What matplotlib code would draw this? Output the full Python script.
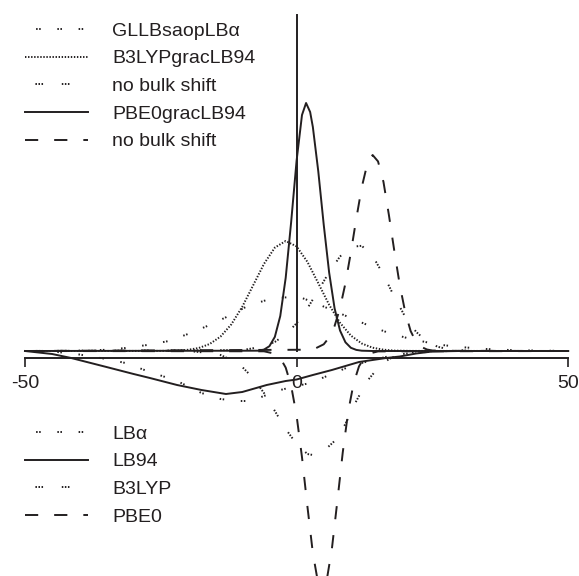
import matplotlib
matplotlib.use("Agg")
import matplotlib.pyplot as plt

plt.rcParams['font.family'] = ['Liberation Sans', 'DejaVu Sans']
plt.rcParams['lines.scale_dashes'] = False

INK = '#231f20'

# ---- upper set: shifted spectra (positive) ----
gllb_x = [-50, -43, -39, -35, -31.5, -27.5, -23.5, -19.5, -16, -12.5, -9, -5.5, -3.5, -1, 1, 3,
          6.5, 10, 13.5, 17, 21, 26, 30, 35, 40, 50]
gllb_y = [0, 0.02, 0.05, 0.12, 0.3, 0.6, 1.0, 1.8, 2.6, 3.5, 4.5, 5.1, 5.3, 5.4, 5.3, 4.9,
          4.1, 3.3, 2.5, 1.8, 1.2, 0.65, 0.4, 0.2, 0.08, 0]

b3lyp_grac_x = [-50, -25, -22, -20, -18, -16, -14, -12, -10, -8, -6, -4, -2, 0, 2, 4, 6, 8,
                10, 12, 14, 16, 18, 21, 50]
b3lyp_grac_y = [0, 0.01, 0.04, 0.12, 0.30, 0.70, 1.44, 2.67, 4.42, 6.56, 8.71, 10.34, 11.0,
                10.46, 8.91, 6.78, 4.62, 2.82, 1.54, 0.75, 0.33, 0.13, 0.04, 0.01, 0]

b3lyp_nobulk_x = [-50, -10, -6, -4, -2, 0, 2, 4, 6, 8, 10, 12, 14, 16, 18, 20, 22, 24, 26,
                  28, 32, 50]
b3lyp_nobulk_y = [0, 0.09, 0.46, 0.91, 1.65, 2.77, 4.27, 6.05, 7.89, 9.45, 10.41, 10.52, 9.51,
                  7.62, 5.42, 3.42, 1.92, 0.95, 0.42, 0.17, 0.01, 0]

pbe0_grac_x = [-50, -7, -6, -5, -4, -3, -2, -1, 0, 1, 1.75, 2.5, 3, 4, 5, 6, 7, 8, 9, 10, 11,
               12, 14, 50]
pbe0_grac_y = [0, 0.03, 0.14, 0.48, 1.41, 3.50, 7.32, 12.87, 19.0, 23.6, 24.8, 23.9, 22.4,
               17.96, 12.64, 7.84, 4.27, 2.05, 0.87, 0.32, 0.11, 0.03, 0, 0]

pbe0_nobulk_x = [-50, 3, 5, 6, 7, 8, 9, 10, 11, 12, 13, 14, 15, 16, 17, 18, 19, 20, 21, 22,
                 23, 24, 25, 27, 50]
pbe0_nobulk_y = [0, 0.13, 0.67, 1.35, 2.50, 4.29, 6.78, 9.87, 13.24, 16.37, 18.66, 19.6, 18.96,
                 16.91, 13.6, 10.0, 6.6, 3.9, 2.0, 0.9, 0.4, 0.15, 0.05, 0.02, 0]

# ---- lower set: unshifted spectra (negative) ----
lba_x = [-50, -44, -40, -35, -31.5, -27.5, -22, -17.5, -14, -11, -8.5, -6, -3, 0, 2.5, 6.5,
         10, 14, 18, 22, 28, 50]
lba_y = [0, -0.1, -0.35, -0.8, -1.2, -2.0, -3.0, -4.2, -4.8, -5.0, -5.0, -4.5, -3.9, -3.5,
         -3.2, -2.3, -1.5, -0.9, -0.4, -0.15, 0, 0]

lb94_x = [-50, -45, -41.5, -35, -30, -27, -22, -17.5, -13, -10, -5.5, -2, 0, 3, 6.5, 11.5,
          16.5, 19, 22, 25, 30, 50]
lb94_y = [0, -0.3, -0.7, -1.6, -2.3, -2.7, -3.4, -3.9, -4.3, -4.1, -3.4, -3.0, -2.85, -2.4,
          -1.9, -1.1, -0.7, -0.55, -0.25, -0.05, 0, 0]

b3lyp_x = [-50, -20, -16, -14, -12, -10, -8, -6, -4, -2, 0, 2, 3, 5, 7, 9, 11, 13, 15, 17,
           19, 22, 25, 50]
b3lyp_y = [0, 0, -0.2, -0.4, -0.9, -1.6, -2.7, -4.2, -6.0, -7.8, -9.3, -10.3, -10.4, -10.0,
           -9.0, -7.3, -5.0, -3.0, -1.7, -0.8, -0.35, -0.05, 0, 0]

pbe0_x = [-50, -6, -4, -3, -2, -1, 0, 1, 2, 3, 4, 4.7, 5.5, 6.5, 7.5, 8.5, 9.5, 10.5, 11.5,
          12.5, 13.5, 15, 50]
pbe0_y = [0, -0.03, -0.27, -0.70, -1.66, -3.47, -6.44, -10.62, -15.55, -20.21, -23.31, -24.0,
          -23.1, -19.8, -15.05, -10.16, -6.09, -3.24, -1.53, -0.64, -0.24, -0.04, 0]

upper_labels = ['GLLBsaopLB\u03b1', 'B3LYPgracLB94', 'no bulk shift', 'PBE0gracLB94',
                'no bulk shift']
lower_labels = ['LB\u03b1', 'LB94', 'B3LYP', 'PBE0']

xticks = [-50, 0, 50]
xtick_labels = ['-50', '0', '50']

# line styles (dash lengths in points)
PAIR_DOTS = (7.3, (1.1, 1.1, 1.1, 12.0))
TRIPLE_DOTS = (11.5, (1.1, 1.1, 1.1, 1.1, 1.1, 13.5))
FINE_DOTS = (0, (1.0, 1.2))
DASHES = (0, (9.5, 11.5))
SOLID = '-'
LW = 1.4

fig = plt.figure(figsize=(5.79, 5.76), dpi=100)
ax = fig.add_axes([0, 0, 1, 1])
ax.patch.set_visible(False)

upper = [
    (gllb_x, gllb_y, PAIR_DOTS),
    (b3lyp_grac_x, b3lyp_grac_y, FINE_DOTS),
    (b3lyp_nobulk_x, b3lyp_nobulk_y, TRIPLE_DOTS),
    (pbe0_grac_x, pbe0_grac_y, SOLID),
    (pbe0_nobulk_x, pbe0_nobulk_y, DASHES),
]
lower = [
    (lba_x, lba_y, PAIR_DOTS),
    (lb94_x, lb94_y, SOLID),
    (b3lyp_x, b3lyp_y, TRIPLE_DOTS),
    (pbe0_x, pbe0_y, DASHES),
]

upper_lines = []
for (xs, ys, ls), lab in zip(upper, upper_labels):
    ln, = ax.plot(xs, ys, color=INK, lw=LW, linestyle=ls, label=lab)
    upper_lines.append(ln)
lower_lines = []
for (xs, ys, ls), lab in zip(lower, lower_labels):
    ln, = ax.plot(xs, ys, color=INK, lw=LW, linestyle=ls, label=lab)
    lower_lines.append(ln)

ax.set_xlim(-54.6, 52.0)
ax.set_ylim(-22.5, 35.1)

for side in ('top', 'right'):
    ax.spines[side].set_visible(False)
ax.spines['left'].set_position(('data', 0))
ax.spines['left'].set_bounds(0, 33.6)
ax.spines['bottom'].set_position(('data', -0.7))
ax.spines['bottom'].set_bounds(-50, 50)
for side in ('left', 'bottom'):
    ax.spines[side].set_linewidth(1.4)
    ax.spines[side].set_color(INK)

ax.set_yticks([])
ax.set_xticks(xticks, labels=xtick_labels)
ax.tick_params(axis='x', direction='out', length=6.5, width=1.2, pad=6,
               labelsize=14, colors=INK)

leg_kw = dict(frameon=False, fontsize=14, handlelength=3.24, handletextpad=1.24,
              labelspacing=0.52, borderpad=0, borderaxespad=0, loc='upper left',
              bbox_transform=fig.transFigure, labelcolor=INK)
leg1 = ax.legend(handles=upper_lines, bbox_to_anchor=(25 / 579, 1 - 22 / 576), **leg_kw)
ax.add_artist(leg1)
ax.legend(handles=lower_lines, bbox_to_anchor=(25 / 579, 1 - 425 / 576), **leg_kw)

fig.savefig('out.png', dpi=100)
